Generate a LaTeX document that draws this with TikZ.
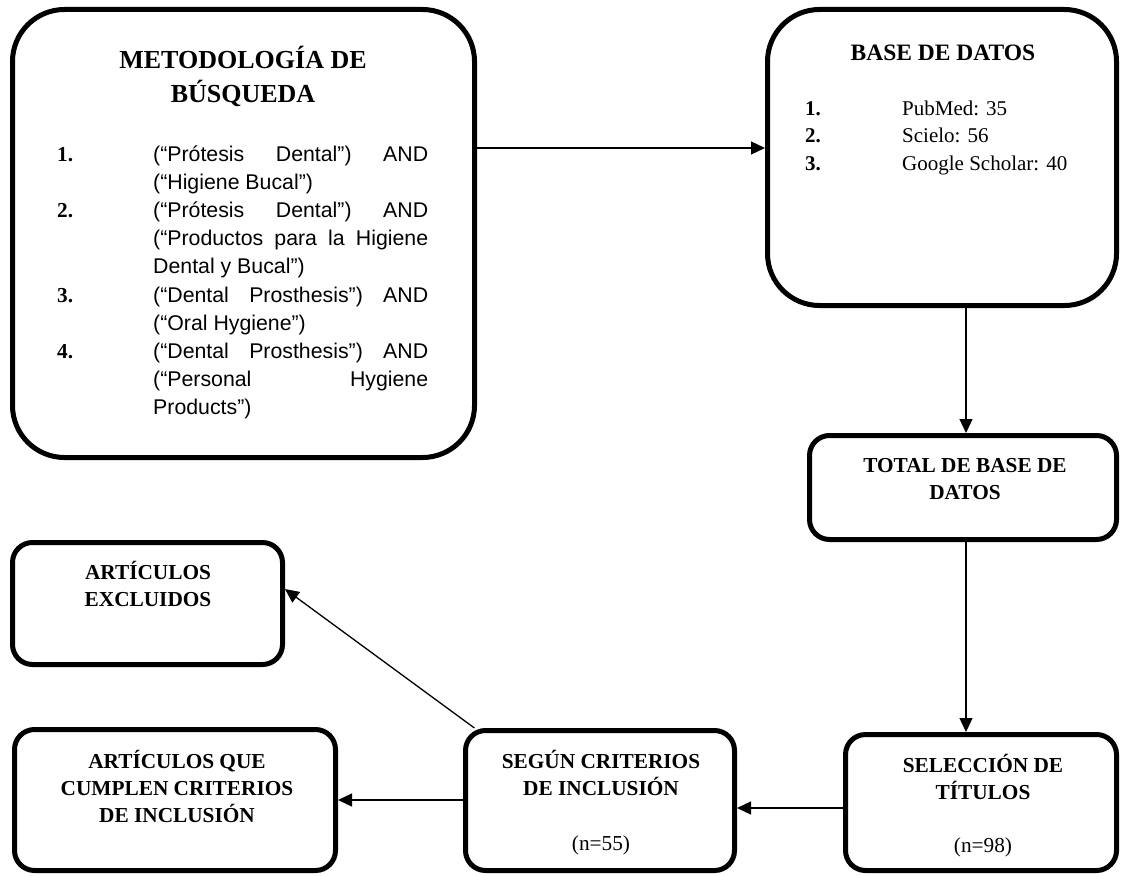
\documentclass[tikz,border=0pt]{standalone}
\usepackage{fontspec}
\setmainfont{Liberation Serif}
\newfontfamily\arialf{Liberation Sans}
\usetikzlibrary{arrows.meta}
\newcommand\numlab[2]{\noindent\llap{\makebox[#1][l]{\rmfamily\bfseries #2}}}
\begin{document}
\begin{tikzpicture}[x=1pt,y=-1pt,
  bigbox/.style={draw, line width=5pt, rounded corners=52pt, inner sep=0pt},
  smallbox/.style={draw, line width=5pt, rounded corners=20pt, inner sep=0pt},
  conn/.style={line width=1.3pt, -{Triangle[length=14pt,width=13pt]}},
  ttl/.style={anchor=base, inner sep=0pt, font=\bfseries\fontsize{21.3}{27}\selectfont},
  plain/.style={anchor=base, inner sep=0pt, font=\fontsize{21.3}{27}\selectfont},
  listtxt/.style={anchor=base west, inner sep=0pt},
]
\useasboundingbox (0,0) rectangle (1121,875);

% boxes
\node[bigbox, minimum width=462pt, minimum height=448pt] (met) at (243.5,233.5) {};
\node[bigbox, minimum width=349pt, minimum height=296pt] (bd) at (942,157.5) {};
\node[smallbox, minimum width=307pt, minimum height=104pt] (tot) at (963,487.5) {};
\node[smallbox, minimum width=271pt, minimum height=136pt] (sel) at (981,802.5) {};
\node[smallbox, minimum width=269pt, minimum height=140pt] (seg) at (600,800.5) {};
\node[smallbox, minimum width=270pt, minimum height=122pt] (exc) at (147.5,603.5) {};
\node[smallbox, minimum width=321pt, minimum height=141pt] (cum) at (175,800) {};

% box 1 text
\node[anchor=base, inner sep=0pt, font=\bfseries\fontsize{26}{34}\selectfont] (mett) at (243,69)
  {\parbox[t]{320pt}{\centering METODOLOGÍA DE\\BÚSQUEDA}};
\node[listtxt] (metl) at (57,161.5) {\parbox[t]{371pt}{\arialf\fontsize{21.3}{28.1}\selectfont
  \hyphenpenalty=10000 \exhyphenpenalty=10000 \leftskip=96pt \parskip=0pt \parindent=0pt
  \numlab{96pt}{1.}(“Prótesis Dental”) AND\linebreak (“Higiene Bucal”)\par
  \numlab{96pt}{2.}(“Prótesis Dental”) AND\linebreak (“Productos para la Higiene\linebreak Dental y Bucal”)\par
  \numlab{96pt}{3.}(“Dental Prosthesis”) AND\linebreak (“Oral Hygiene”)\par
  \numlab{96pt}{4.}(“Dental Prosthesis”) AND\linebreak (“Personal Hygiene\linebreak Products”)\par}};

% box 2 text
\node[anchor=base, inner sep=0pt, font=\bfseries\fontsize{23.5}{30}\selectfont] (bdt) at (943,60) {BASE DE DATOS};
\node[listtxt] (bdl) at (805,115) {\parbox[t]{300pt}{\fontsize{21}{27.5}\selectfont
  \raggedright \leftskip=97pt \parskip=0pt \parindent=0pt
  \numlab{97pt}{1.}PubMed: 35\par
  \numlab{97pt}{2.}Scielo: 56\par
  \numlab{97pt}{3.}Google Scholar: 40\par}};

% small box texts
\node[ttl] (tott) at (965,472) {\parbox[t]{280pt}{\centering TOTAL DE BASE DE\\DATOS}};
\node[ttl] (selt) at (983,772) {\parbox[t]{260pt}{\centering SELECCIÓN DE\\TÍTULOS}};
\node[plain] (seln) at (983,852) {(n=98)};
\node[ttl] (segt) at (601,768) {\parbox[t]{260pt}{\centering SEGÚN CRITERIOS\\DE INCLUSIÓN}};
\node[plain] (segn) at (601,850) {(n=55)};
\node[ttl] (exct) at (148,579) {\parbox[t]{260pt}{\centering ARTÍCULOS\\EXCLUIDOS}};
\node[ttl] (cumt) at (177,768) {\parbox[t]{300pt}{\centering ARTÍCULOS QUE\\CUMPLEN CRITERIOS\\DE INCLUSIÓN}};

% connectors
\draw[conn] (met.east |- 0,148) -- (bd.west |- 0,148);
\draw[conn] (bd.south -| 966,0) -- (tot.north -| 966,0);
\draw[conn] (tot.south -| 966,0) -- (sel.north -| 966,0);
\draw[conn] (sel.west |- 0,808) -- (seg.east |- 0,808);
\draw[conn] (seg.west |- 0,800) -- (cum.east |- 0,800);
\draw[conn] (seg.150) -- (exc.6);
\end{tikzpicture}
\end{document}
